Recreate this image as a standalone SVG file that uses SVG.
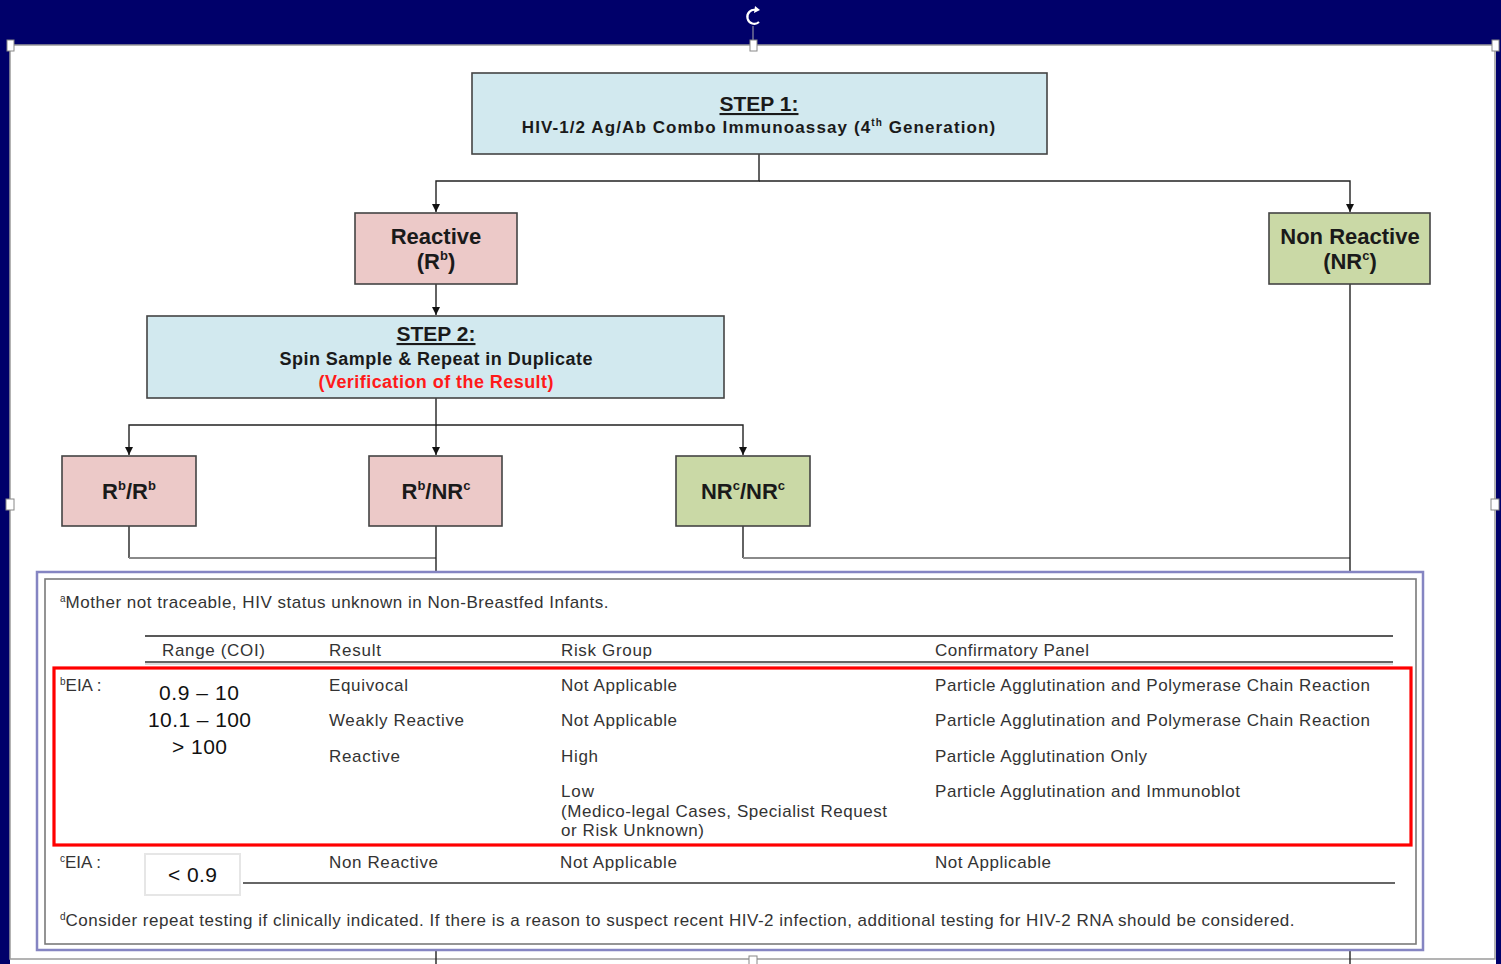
<svg xmlns="http://www.w3.org/2000/svg" width="1501" height="964" viewBox="0 0 1501 964">
  <defs>
    <marker id="arr" viewBox="0 0 10 10" refX="10" refY="5" markerWidth="8" markerHeight="8" markerUnits="userSpaceOnUse" orient="auto">
      <path d="M0,0 L10,5 L0,10 z" fill="#111"/>
    </marker>
    <style>
      .box { stroke: #444; stroke-width: 1.6; }
      .step { fill: #d2e9ef; }
      .pink { fill: #ecc9c8; }
      .green { fill: #cad9a6; }
      .ttl { font-family: "Liberation Sans", Arial, sans-serif; font-weight: bold; fill: #1a1a1a; }
      .tb { font-family: "Liberation Sans", Arial, sans-serif; font-size: 17px; fill: #333; }
      .num { font-family: "Liberation Sans", Arial, sans-serif; font-size: 21px; fill: #111; }
      .sup { font-size: 10px; }
      .ln { stroke: #222; stroke-width: 1.4; fill: none; }
      .gl { stroke: #8a8a8a; stroke-width: 2; fill: none; }
      .hd { fill: #fff; stroke: #888; stroke-width: 1; }
    </style>
  </defs>

  <!-- editor background and canvas -->
  <rect x="0" y="0" width="1501" height="964" fill="#00006a"/>
  <rect x="10" y="45" width="1486" height="919" fill="#fff"/>
  <rect x="10" y="45" width="1485" height="914" fill="none" stroke="#9a9a9a" stroke-width="1.5"/>
  <line x1="753" y1="26" x2="753" y2="45" stroke="#aaa" stroke-width="1"/>
  <path d="M756,10 A7,7 0 1 0 759,22" fill="none" stroke="#fff" stroke-width="2.2"/>
  <path d="M755,6 L760,10 L754,13 z" fill="#fff"/>
  <rect class="hd" x="7" y="40" width="7" height="11"/>
  <rect class="hd" x="750" y="40" width="7" height="11"/>
  <rect class="hd" x="1492" y="40" width="7" height="11"/>
  <rect class="hd" x="6" y="499" width="8" height="11"/>
  <rect class="hd" x="1491" y="499" width="8" height="11"/>
  <rect class="hd" x="749" y="956" width="8" height="10"/>

  <!-- connectors -->
  <g id="connectors">
    <path class="ln" d="M759,154 V181 H436 V212" marker-end="url(#arr)"/>
    <path class="ln" d="M759,181 H1350 V212" marker-end="url(#arr)"/>
    <path class="ln" d="M436,284 V315" marker-end="url(#arr)"/>
    <path class="ln" d="M436,398 V425 H129 V455" marker-end="url(#arr)"/>
    <path class="ln" d="M436,425 V455" marker-end="url(#arr)"/>
    <path class="ln" d="M436,425 H743 V455" marker-end="url(#arr)"/>
    <path class="ln" d="M129,526 V558"/>
    <path class="gl" d="M129,558 H436"/>
    <path class="ln" d="M436,526 V572"/>
    <path class="ln" d="M743,526 V558"/>
    <path class="gl" d="M743,558 H1350"/>
    <path class="ln" d="M1350,284 V572" stroke="#555"/>
    <path class="ln" d="M436,950 V964"/>
    <path class="ln" d="M1350,950 V964" stroke="#555"/>
  </g>

  <!-- step 1 -->
  <g id="step1">
    <rect class="box step" x="472" y="73" width="575" height="81"/>
    <text class="ttl" x="759" y="111" font-size="21" text-anchor="middle" text-decoration="underline">STEP 1:</text>
    <text class="ttl" x="759" y="133" font-size="17" letter-spacing="1.1" text-anchor="middle">HIV-1/2 Ag/Ab Combo Immunoassay (4<tspan class="sup" dy="-7">th</tspan><tspan dy="7"> Generation)</tspan></text>
  </g>

  <!-- reactive -->
  <g id="reactive">
    <rect class="box pink" x="355" y="213" width="162" height="71"/>
    <text class="ttl" x="436" y="244" font-size="22" text-anchor="middle">Reactive</text>
    <text class="ttl" x="436" y="269" font-size="22" text-anchor="middle">(R<tspan font-size="13" dy="-9">b</tspan><tspan dy="9">)</tspan></text>
  </g>

  <!-- non reactive -->
  <g id="nonreactive">
    <rect class="box green" x="1269" y="213" width="161" height="71"/>
    <text class="ttl" x="1350" y="244" font-size="22" text-anchor="middle">Non Reactive</text>
    <text class="ttl" x="1350" y="269" font-size="22" text-anchor="middle">(NR<tspan font-size="13" dy="-9">c</tspan><tspan dy="9">)</tspan></text>
  </g>

  <!-- step 2 -->
  <g id="step2">
    <rect class="box step" x="147" y="316" width="577" height="82"/>
    <text class="ttl" x="436" y="341" font-size="21" text-anchor="middle" text-decoration="underline">STEP 2:</text>
    <text class="ttl" x="436" y="365" font-size="18" text-anchor="middle" textLength="313" lengthAdjust="spacing">Spin Sample &amp; Repeat in Duplicate</text>
    <text class="ttl" x="436" y="388" font-size="18" text-anchor="middle" style="fill:#ff1a1a" textLength="235" lengthAdjust="spacing">(Verification of the Result)</text>
  </g>

  <!-- duplicate outcomes -->
  <g id="rr">
    <rect class="box pink" x="62" y="456" width="134" height="70"/>
    <text class="ttl" x="129" y="499" font-size="22" text-anchor="middle">R<tspan font-size="13" dy="-9">b</tspan><tspan dy="9">/R</tspan><tspan font-size="13" dy="-9">b</tspan></text>
  </g>
  <g id="rnr">
    <rect class="box pink" x="369" y="456" width="133" height="70"/>
    <text class="ttl" x="436" y="499" font-size="22" text-anchor="middle">R<tspan font-size="13" dy="-9">b</tspan><tspan dy="9">/NR</tspan><tspan font-size="13" dy="-9">c</tspan></text>
  </g>
  <g id="nrnr">
    <rect class="box green" x="676" y="456" width="134" height="70"/>
    <text class="ttl" x="743" y="499" font-size="22" text-anchor="middle">NR<tspan font-size="13" dy="-9">c</tspan><tspan dy="9">/NR</tspan><tspan font-size="13" dy="-9">c</tspan></text>
  </g>

  <!-- footnote table -->
  <g id="notes">
    <rect x="37" y="572" width="1386" height="378" fill="#fff" stroke="#8585c2" stroke-width="2.5"/>
    <rect x="45" y="579" width="1371" height="365" fill="none" stroke="#7a7a7a" stroke-width="1.6"/>

    <text class="tb" x="60" y="608"><tspan class="sup" dy="-6">a</tspan><tspan dy="6" textLength="543" lengthAdjust="spacing">Mother not traceable, HIV status unknown in Non-Breastfed Infants.</tspan></text>

    <line x1="145" y1="636" x2="1393" y2="636" stroke="#222" stroke-width="1.5"/>
    <line x1="145" y1="662" x2="1393" y2="662" stroke="#333" stroke-width="1.5"/>
    <line x1="145" y1="664" x2="1393" y2="664" stroke="#bbb" stroke-width="1"/>
    <text class="tb" x="162" y="656" textLength="103" lengthAdjust="spacing">Range (COI)</text>
    <text class="tb" x="329" y="656" textLength="52" lengthAdjust="spacing">Result</text>
    <text class="tb" x="561" y="656" textLength="91" lengthAdjust="spacing">Risk Group</text>
    <text class="tb" x="935" y="656" textLength="154" lengthAdjust="spacing">Confirmatory Panel</text>

    <rect x="54" y="668" width="1357" height="177" fill="none" stroke="#ff0000" stroke-width="3.2"/>

    <text class="tb" x="60" y="691"><tspan class="sup" dy="-6">b</tspan><tspan dy="6">EIA :</tspan></text>
    <text class="num" x="159" y="700" textLength="80" lengthAdjust="spacing">0.9 – 10</text>
    <text class="num" x="148" y="727" textLength="103" lengthAdjust="spacing">10.1 – 100</text>
    <text class="num" x="172" y="754" textLength="55" lengthAdjust="spacing">&gt; 100</text>

    <text class="tb" x="329" y="691" textLength="79" lengthAdjust="spacing">Equivocal</text>
    <text class="tb" x="329" y="726" textLength="135" lengthAdjust="spacing">Weakly Reactive</text>
    <text class="tb" x="329" y="762" textLength="71" lengthAdjust="spacing">Reactive</text>

    <text class="tb" x="561" y="691" textLength="116" lengthAdjust="spacing">Not Applicable</text>
    <text class="tb" x="561" y="726" textLength="116" lengthAdjust="spacing">Not Applicable</text>
    <text class="tb" x="561" y="762" textLength="37" lengthAdjust="spacing">High</text>
    <text class="tb" x="561" y="797" textLength="33" lengthAdjust="spacing">Low</text>
    <text class="tb" x="561" y="817" textLength="326" lengthAdjust="spacing">(Medico-legal Cases, Specialist Request</text>
    <text class="tb" x="561" y="836" textLength="143" lengthAdjust="spacing">or Risk Unknown)</text>

    <text class="tb" x="935" y="691" textLength="435" lengthAdjust="spacing">Particle Agglutination and Polymerase Chain Reaction</text>
    <text class="tb" x="935" y="726" textLength="435" lengthAdjust="spacing">Particle Agglutination and Polymerase Chain Reaction</text>
    <text class="tb" x="935" y="762" textLength="212" lengthAdjust="spacing">Particle Agglutination Only</text>
    <text class="tb" x="935" y="797" textLength="305" lengthAdjust="spacing">Particle Agglutination and Immunoblot</text>

    <text class="tb" x="60" y="868"><tspan class="sup" dy="-6">c</tspan><tspan dy="6">EIA :</tspan></text>
    <rect x="145" y="854" width="95" height="41" fill="#fff" stroke="#e6e6e6" stroke-width="2"/>
    <text class="num" x="168" y="882" textLength="49" lengthAdjust="spacing">&lt; 0.9</text>
    <text class="tb" x="329" y="868" textLength="109" lengthAdjust="spacing">Non Reactive</text>
    <text class="tb" x="560" y="868" textLength="117" lengthAdjust="spacing">Not Applicable</text>
    <text class="tb" x="935" y="868" textLength="116" lengthAdjust="spacing">Not Applicable</text>
    <line x1="243" y1="883" x2="1395" y2="883" stroke="#333" stroke-width="1.5"/>

    <text class="tb" x="60" y="926"><tspan class="sup" dy="-6">d</tspan><tspan dy="6" textLength="1229" lengthAdjust="spacing">Consider repeat testing if clinically indicated. If there is a reason to suspect recent HIV-2 infection, additional testing for HIV-2 RNA should be considered.</tspan></text>
  </g>
</svg>
